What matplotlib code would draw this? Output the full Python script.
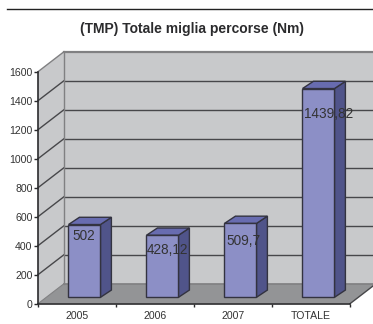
import matplotlib
matplotlib.use("Agg")
import matplotlib.pyplot as plt

categories = ["2005", "2006", "2007", "TOTALE"]
values = [502, 428.12, 509.7, 1439.82]
value_labels = ["502", "428,12", "509,7", "1439,82"]
y_ticks = [0, 200, 400, 600, 800, 1000, 1200, 1400, 1600]

FIG_W, FIG_H = 373, 324
DPI = 100

# fake 3D depth, in data units (category steps / chart values)
WALL_DX, WALL_DY = 1 / 3, 138
BAR_SHIFT, BAR_LIFT = 0.096, 44
BAR_WIDTH = 0.41
BAR_DX, BAR_DY = 0.14, 50
X0, X1 = -0.5, 3.5
Y1 = 1600

# label placement relative to bar front-left corner and top, pixels
label_dx = [4, 0, 2, 2]
label_dy = [-11, -15, -18, -25]

wall_color = "#c8c9cb"
floor_color = "#939496"
grid_color = "#47474a"
text_color = "#333333"
font = "Liberation Sans"

fig = plt.figure(figsize=(FIG_W / DPI, FIG_H / DPI), dpi=DPI)
ax = fig.add_axes([38 / FIG_W, 1 - 303.7 / FIG_H, 312 / FIG_W, 232 / FIG_H])
ax.set_xlim(X0, X1)
ax.set_ylim(0, Y1)

# walls and floor
ax.fill([X0 + WALL_DX, X1 + WALL_DX, X1 + WALL_DX, X0 + WALL_DX],
        [WALL_DY, WALL_DY, Y1 + WALL_DY, Y1 + WALL_DY],
        color=wall_color, lw=0, clip_on=False, zorder=1)
ax.fill([X0, X0 + WALL_DX, X0 + WALL_DX, X0],
        [0, WALL_DY, Y1 + WALL_DY, Y1],
        color=wall_color, lw=0, clip_on=False, zorder=1)
ax.fill([X0, X1, X1 + WALL_DX, X0 + WALL_DX],
        [0, 0, WALL_DY, WALL_DY],
        color=floor_color, lw=0, clip_on=False, zorder=1)

# grid on side and back walls
for v in y_ticks[1:]:
    is_top = v == Y1
    c = "#808082" if is_top else grid_color
    ax.plot([X0 + WALL_DX, X1 + WALL_DX], [v + WALL_DY, v + WALL_DY],
            color=c, lw=1.6 if is_top else 1.0, clip_on=False, zorder=2)
    ax.plot([X0, X0 + WALL_DX], [v, v + WALL_DY],
            color=c, lw=1.0, clip_on=False, zorder=2)
ax.plot([X0 + WALL_DX] * 2, [WALL_DY, Y1 + WALL_DY], color="#808082", lw=1.0, clip_on=False, zorder=2)
ax.plot([X0, X0 + WALL_DX], [0, WALL_DY], color="#808082", lw=0.8, clip_on=False, zorder=2)
ax.plot([X0 + WALL_DX, X1 + WALL_DX], [WALL_DY, WALL_DY], color="#808082", lw=1.2, clip_on=False, zorder=2)
ax.plot([X1, X1 + WALL_DX], [0, WALL_DY], color=grid_color, lw=1.0, clip_on=False, zorder=2)

# bars
positions = [i + BAR_SHIFT for i in range(len(values))]
ax.bar(positions, values, width=BAR_WIDTH, bottom=BAR_LIFT, color="#8c8fc6",
       edgecolor="#333340", linewidth=1.0, zorder=4)
for x, v in zip(positions, values):
    left, right = x - BAR_WIDTH / 2, x + BAR_WIDTH / 2
    top = v + BAR_LIFT
    ax.fill([right, right + BAR_DX, right + BAR_DX, right],
            [BAR_LIFT, BAR_LIFT + BAR_DY, top + BAR_DY, top],
            facecolor="#50548a", edgecolor="#333340", lw=1.0, clip_on=False, zorder=3)
    ax.fill([left, right, right + BAR_DX, left + BAR_DX],
            [top, top, top + BAR_DY, top + BAR_DY],
            facecolor="#686cb0", edgecolor="#333340", lw=1.0, clip_on=False, zorder=3)

for x, v, lab, dx, dy in zip(positions, values, value_labels, label_dx, label_dy):
    ax.annotate(lab, xy=(x - BAR_WIDTH / 2, v + BAR_LIFT),
                xytext=(dx * 72 / DPI, dy * 72 / DPI), textcoords="offset points",
                ha="left", va="center", fontsize=9.8, family=font, color=text_color,
                annotation_clip=False, zorder=6)

# axes
ax.patch.set_visible(False)
for s in ["top", "right"]:
    ax.spines[s].set_visible(False)
for s in ["left", "bottom"]:
    ax.spines[s].set_color("#2b2b2d")
    ax.spines[s].set_linewidth(1.2)
    ax.spines[s].set_zorder(5)
ax.set_yticks(y_ticks)
ax.set_xticks([X0 + i for i in range(len(categories) + 1)])
ax.set_xticklabels([])
ax.tick_params(axis="y", length=3, width=1.0, color="#2b2b2d", pad=1,
               labelsize=7.6, labelcolor=text_color)
ax.tick_params(axis="x", length=2.5, width=1.0, color="#2b2b2d")
for lab in ax.get_yticklabels():
    lab.set_family(font)
for i, c in enumerate(categories):
    ax.annotate(c, xy=(i, 0), xytext=(0, -12.5 * 72 / DPI), textcoords="offset points",
                ha="center", va="center", fontsize=7.6, family=font, color=text_color,
                annotation_clip=False)

# title and the rule above it
fig.text(192 / FIG_W, 1 - 28.5 / FIG_H, "(TMP) Totale miglia percorse (Nm)",
         ha="center", va="center", fontsize=10, fontweight="bold", family=font, color="#2b2b2d")
fig.add_artist(plt.Line2D([7 / FIG_W, 1], [1 - 9 / FIG_H] * 2, color="#222222", lw=1.0))

fig.savefig("out.png", dpi=DPI, facecolor="white")
